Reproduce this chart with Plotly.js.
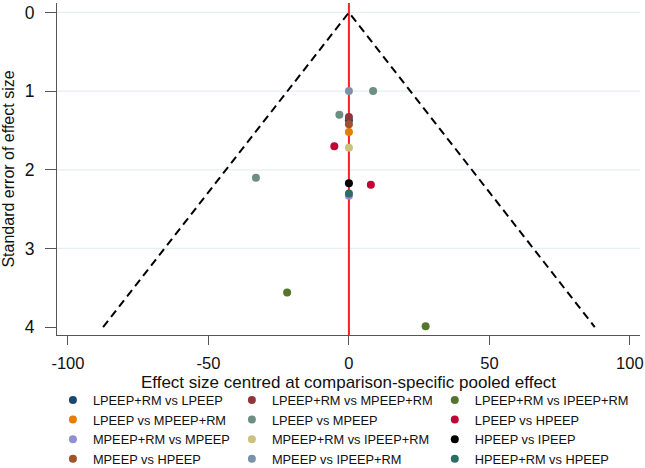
<!DOCTYPE html>
<html>
<head>
<meta charset="utf-8">
<script src="https://cdn.plot.ly/plotly-3.0.1.min.js"></script>
<style>html,body{margin:0;padding:0;background:#fff;}#chart{width:645px;height:468px;}</style>
</head>
<body>
<div id="chart"></div>
<script>
// ---- data ----
const comparisons = [
  "LPEEP+RM vs LPEEP", "LPEEP+RM vs MPEEP+RM", "LPEEP+RM vs IPEEP+RM",
  "LPEEP vs MPEEP+RM", "LPEEP vs MPEEP", "LPEEP vs HPEEP",
  "MPEEP+RM vs MPEEP", "MPEEP+RM vs IPEEP+RM", "HPEEP vs IPEEP",
  "MPEEP vs HPEEP", "MPEEP vs IPEEP+RM", "HPEEP+RM vs HPEEP"
];
const colors = [
  "#1a476f", "#90353b", "#55752f",
  "#e37e00", "#6e8e84", "#c10534",
  "#938dd2", "#cac27e", "#000000",
  "#a0522d", "#7b92a8", "#2d6d66"
];
// effect size centred at comparison-specific pooled effect
const effectSizes = [
  [0], [0], [-22.0, 27.3],
  [0], [8.6, -3.4, -33.1], [-5.2, 7.8],
  [0], [0], [0],
  [0], [0], [0]
];
// standard error of effect size
const standardErrors = [
  [1.37], [1.33], [3.56, 3.99],
  [1.52], [1.00, 1.30, 2.10], [1.70, 2.19],
  [2.33], [1.72], [2.17],
  [1.42], [1.00], [2.30]
];
// pseudo confidence funnel
const funnelX = [-87.5, 0, 87.5];
const funnelSE = [4, 0, 4];
const xTicks = [-100, -50, 0, 50, 100];
const yTicks = [0, 1, 2, 3, 4];
const gridSE = [0, 1, 2, 3];

const FONT = "Liberation Sans, Arial, Helvetica, sans-serif";
const legendNames = ["legend", "legend2", "legend3"];

const traces = [];
traces.push({
  x: funnelX, y: funnelSE, type: "scatter", mode: "lines",
  line: {color: "#000", width: 2, dash: "8px,5px"},
  showlegend: false, hoverinfo: "skip"
});
comparisons.forEach((name, i) => {
  traces.push({
    x: effectSizes[i], y: standardErrors[i], type: "scatter", mode: "markers",
    name: name,
    marker: {color: colors[i], size: 8, line: {width: 0}},
    legend: legendNames[i % 3],
    cliponaxis: false
  });
});

const shapes = gridSE.map(v => ({
  type: "line", xref: "paper", x0: 0, x1: 1, yref: "y", y0: v, y1: v,
  line: {color: "#e6eef1", width: 1.2}, layer: "below"
}));
shapes.push({
  type: "line", xref: "x", x0: 0, x1: 0, yref: "paper", y0: 0, y1: 1,
  line: {color: "#ff2020", width: 2}, layer: "below"
});

const legendBase = {
  orientation: "v", xanchor: "left", yanchor: "top", y: -0.151,
  font: {family: FONT, size: 12.8, color: "#111"},
  bgcolor: "rgba(0,0,0,0)", borderwidth: 0, tracegroupgap: 0,
  itemclick: false, itemdoubleclick: false
};

const layout = {
  width: 645, height: 468,
  margin: {l: 57, r: 5, t: 3, b: 133, autoexpand: false},
  paper_bgcolor: "#fff", plot_bgcolor: "#fff",
  font: {family: FONT, color: "#111"},
  showlegend: true,
  xaxis: {
    range: [-103.9, 103.6], tickvals: xTicks, ticktext: xTicks.map(String),
    showgrid: false, zeroline: false,
    showline: true, linecolor: "#555", linewidth: 1,
    ticks: "outside", ticklen: 9, tickcolor: "#555", tickwidth: 1,
    ticklabelstandoff: 4,
    tickfont: {family: FONT, size: 16.5, color: "#111"},
    title: {text: "Effect size centred at comparison-specific pooled effect",
            font: {family: FONT, size: 17, color: "#111"}, standoff: 5}
  },
  yaxis: {
    range: [4.1, -0.12], tickvals: yTicks, ticktext: yTicks.map(String),
    showgrid: false, zeroline: false,
    showline: true, linecolor: "#555", linewidth: 1,
    ticks: "outside", ticklen: 11, tickcolor: "#555", tickwidth: 1,
    ticklabelstandoff: 7,
    tickfont: {family: FONT, size: 17.5, color: "#111"},
    title: {text: "Standard error of effect size",
            font: {family: FONT, size: 16, color: "#111"}, standoff: 6}
  },
  shapes: shapes,
  legend: Object.assign({}, legendBase, {x: -0.007}),
  legend2: Object.assign({}, legendBase, {x: 0.300}),
  legend3: Object.assign({}, legendBase, {x: 0.648})
};

Plotly.newPlot("chart", traces, layout, {staticPlot: true, displayModeBar: false});
</script>
</body>
</html>
